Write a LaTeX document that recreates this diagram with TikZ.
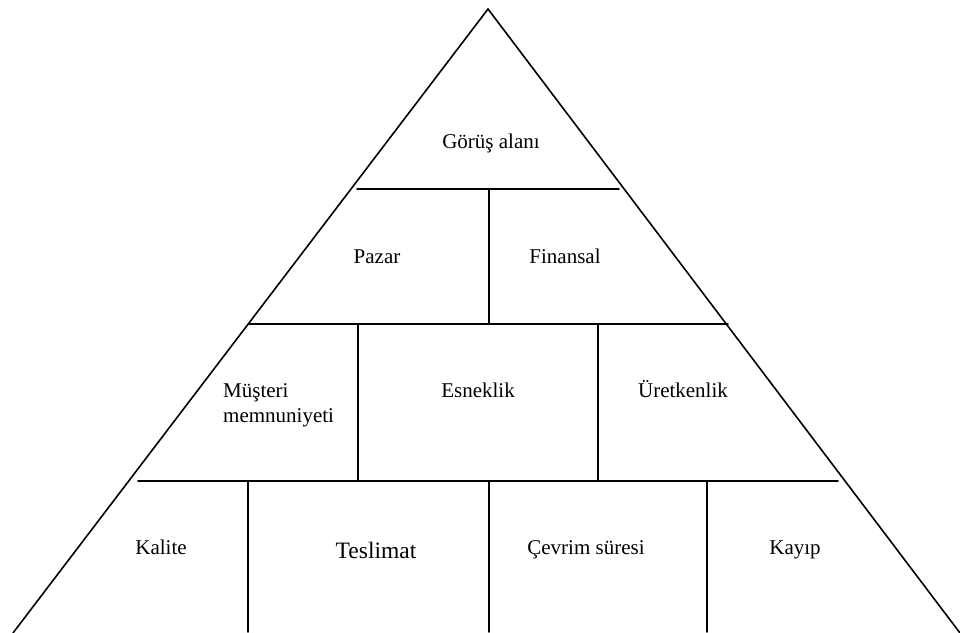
\documentclass[tikz,border=0pt]{standalone}
\usepackage{fontspec}
\setmainfont{Liberation Serif}
\begin{document}
\begin{tikzpicture}[x=1pt,y=-1pt,
  edge/.style={line width=1.6pt,line cap=round},
  lbl/.style={font=\fontsize{21}{25}\selectfont,inner sep=0pt,anchor=base},
  biglbl/.style={font=\fontsize{23.5}{28}\selectfont,inner sep=0pt,anchor=base}]
\useasboundingbox (0,0) rectangle (960,632);
% triangle corners
\coordinate (apex) at (488,9);
\coordinate (bl) at (13,633);
\coordinate (br) at (960,633);
\draw[edge,line join=miter] (bl) -- (apex) -- (br);
% horizontal dividers
\coordinate (h1l) at (357,189); \coordinate (h1r) at (619,189);
\coordinate (h2l) at (249,324); \coordinate (h2r) at (728,324);
\coordinate (h3l) at (138,481); \coordinate (h3r) at (838,481);
\draw[edge] (h1l) -- (h1r);
\draw[edge] (h2l) -- (h2r);
\draw[edge] (h3l) -- (h3r);
% vertical dividers
\coordinate (v1t) at (489,189); \coordinate (v1b) at (489,324);
\coordinate (v2t) at (358,324); \coordinate (v2b) at (358,481);
\coordinate (v3t) at (598,324); \coordinate (v3b) at (598,481);
\coordinate (v4t) at (248,481); \coordinate (v4b) at (248,632);
\coordinate (v5t) at (489,481); \coordinate (v5b) at (489,632);
\coordinate (v6t) at (707,481); \coordinate (v6b) at (707,632);
\draw[edge] (v1t) -- (v1b);
\draw[edge] (v2t) -- (v2b);
\draw[edge] (v3t) -- (v3b);
\draw[edge] (v4t) -- (v4b);
\draw[edge] (v5t) -- (v5b);
\draw[edge] (v6t) -- (v6b);
% labels
\node[lbl] (gorus) at (491,148) {Görüş alanı};
\node[lbl] (pazar) at (377,263) {Pazar};
\node[lbl] (finansal) at (565,263) {Finansal};
\node[lbl,anchor=base west] (musteri1) at (223,397) {Müşteri};
\node[lbl,anchor=base west] (musteri2) at (223,422) {memnuniyeti};
\node[lbl] (esneklik) at (478,397) {Esneklik};
\node[lbl] (uretkenlik) at (683,397) {Üretkenlik};
\node[lbl] (kalite) at (161,554) {Kalite};
\node[biglbl] (teslimat) at (376,558) {Teslimat};
\node[lbl] (cevrim) at (586,554) {Çevrim süresi};
\node[lbl] (kayip) at (795,554) {Kayıp};
\end{tikzpicture}
\end{document}
